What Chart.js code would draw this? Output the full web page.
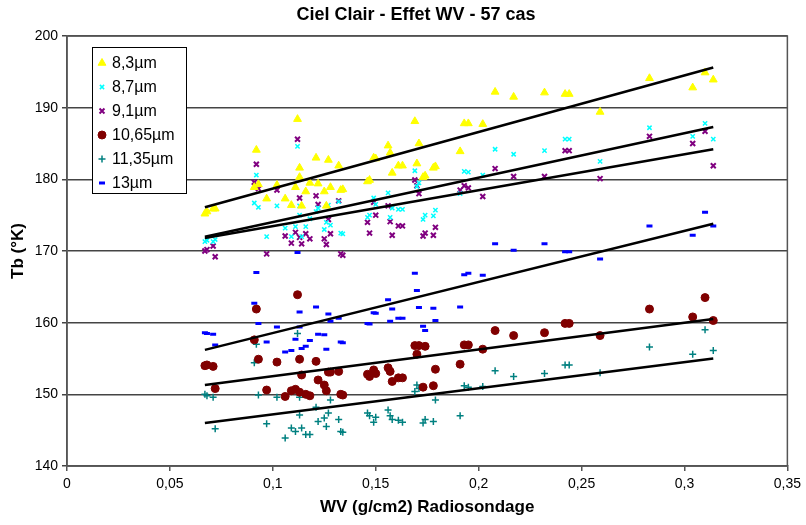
<!DOCTYPE html>
<html>
<head>
<meta charset="utf-8">
<title>Ciel Clair - Effet WV - 57 cas</title>
<script src="https://cdn.jsdelivr.net/npm/chart.js@4.4.1/dist/chart.umd.min.js"></script>
<style>
  html, body { margin: 0; padding: 0; background: #fff; }
  #wrap { position: relative; width: 806px; height: 525px; }
</style>
</head>
<body>
<div id="wrap"><canvas id="chart"></canvas></div>
<script>
// WV (g/cm2) of each radiosonde case - shared by every channel
const wv = [
  0.067, 0.068, 0.071, 0.072, 0.091, 0.092, 0.093, 0.097, 0.102, 0.106,
  0.109, 0.111, 0.112, 0.113, 0.113, 0.114, 0.116, 0.118, 0.121, 0.122,
  0.125, 0.126, 0.127, 0.128, 0.132, 0.133, 0.134, 0.146, 0.147, 0.149,
  0.150, 0.156, 0.157, 0.158, 0.161, 0.163, 0.169, 0.170, 0.171, 0.173,
  0.174, 0.178, 0.179, 0.191, 0.193, 0.195, 0.202, 0.208, 0.217, 0.232,
  0.242, 0.244, 0.259, 0.283, 0.304, 0.310, 0.314
];

// Tb (K) per channel, same order as wv
const tb83 = [
  175.2, 175.5, 175.9, 175.9, 178.9, 184.1, 179.3, 177.3, 179.2, 177.3,
  176.4, 178.9, 188.4, 181.6, 180.3, 176.3, 178.3, 179.5, 183.0, 179.4,
  178.3, 176.3, 182.7, 178.9, 181.9, 178.5, 178.6, 179.7, 179.9, 183.0,
  182.9, 184.7, 183.7, 180.9, 181.9, 181.9, 188.1, 182.2, 185.0, 180.3,
  180.5, 181.6, 181.8, 183.9, 187.8, 187.8, 187.7, 192.2, 191.5, 192.1,
  191.9, 191.9, 189.4, 194.1, 192.8, 194.9, 193.9
];
const tb87 = [
  171.3, 171.5, 171.3, 171.6, 176.7, 180.6, 176.1, 172.0, 176.3, 173.2,
  172.0, 173.4, 184.6, 176.3, 175.0, 172.0, 173.4, 174.5, 175.5, 176.0,
  173.0, 174.0, 176.4, 173.6, 176.9, 172.5, 172.4, 174.7, 175.0, 177.4,
  176.5, 178.1, 174.7, 176.0, 175.8, 175.8, 181.2, 179.0, 179.5, 174.4,
  175.0, 174.9, 175.7, 178.0, 181.1, 181.0, 180.6, 184.2, 183.5, 184.0,
  185.6, 185.6, 182.5, 187.2, 186.0, 187.8, 185.6
];
const tb91 = [
  170.0, 170.2, 170.7, 169.2, 179.6, 182.1, 178.7, 169.6, 178.5, 172.1,
  171.1, 172.6, 185.6, 177.4, 171.9, 171.0, 172.4, 171.7, 177.7, 176.5,
  171.7, 170.9, 174.4, 172.4, 177.0, 169.6, 169.4, 174.0, 172.5, 176.8,
  175.0, 176.3, 174.1, 172.2, 173.5, 173.5, 179.9, 179.1, 178.0, 172.1,
  172.5, 172.2, 173.3, 178.5, 179.1, 178.8, 177.6, 181.5, 180.4, 180.4,
  184.0, 184.0, 180.1, 186.0, 185.0, 186.7, 181.9
];
const tb1065 = [
  154.0, 154.1, 153.9, 150.8, 157.6, 161.9, 154.9, 150.6, 154.5, 149.7,
  150.5, 150.7, 163.9, 154.9, 150.3, 152.7, 150.0, 149.8, 154.6, 152.0,
  151.3, 150.5, 153.1, 153.1, 153.2, 150.0, 149.9, 152.8, 152.5, 153.4,
  152.9, 153.7, 153.2, 151.8, 152.3, 152.3, 156.8, 155.6, 156.8, 151.0,
  156.7, 151.2, 153.5, 154.2, 156.9, 156.9, 156.3, 158.9, 158.2, 158.6,
  159.9, 159.9, 158.2, 161.9, 160.8, 163.5, 160.3
];
const tb1135 = [
  150.0, 149.8, 149.6, 145.2, 154.4, 157.0, 149.9, 145.9, 149.6, 143.9,
  145.3, 144.8, 158.5, 149.6, 147.1, 145.3, 144.4, 144.4, 148.2, 146.2,
  146.7, 145.5, 147.4, 149.2, 146.5, 144.8, 144.7, 147.4, 147.0, 146.1,
  146.8, 147.8, 147.0, 146.5, 146.4, 146.1, 150.4, 151.3, 150.8, 146.0,
  146.5, 146.2, 149.2, 147.0, 151.2, 151.0, 151.1, 153.3, 152.5, 152.9,
  154.1, 154.1, 153.0, 156.6, 155.6, 159.0, 156.1
];
const tb13 = [
  158.6, 158.5, 158.4, 156.9, 162.7, 167.0, 159.9, 157.3, 159.4, 155.9,
  156.1, 157.7, 169.8, 161.5, 159.4, 156.4, 156.7, 157.5, 162.2, 158.4,
  158.3, 156.3, 161.2, 160.2, 160.6, 157.3, 157.2, 159.9, 159.8, 161.4,
  161.3, 163.2, 160.2, 161.9, 160.6, 160.6, 166.9, 164.5, 162.1, 159.5,
  158.9, 162.0, 160.3, 162.2, 166.7, 166.9, 166.6, 171.0, 170.1, 171.0,
  169.9, 169.9, 168.9, 173.5, 172.2, 175.4, 173.5
];

const channels = ['8,3µm', '8,7µm', '9,1µm', '10,65µm', '11,35µm', '13µm'];
// linear trend of each channel, value at smallest / largest WV
const fitLow = [176.1, 172.0, 171.8, 151.3, 146.0, 156.2];
const fitHigh = [195.6, 187.3, 184.2, 160.5, 155.0, 173.8];

const series = [tb83, tb87, tb91, tb1065, tb1135, tb13];

// marker look per channel (Excel-ish)
const markers = [
  { pointStyle: 'triangle', radius: 4.5, color: '#ffff00', borderWidth: 1 },
  { pointStyle: 'crossRot', radius: 3, color: '#00ffff', borderWidth: 1.5 },
  { pointStyle: 'crossRot', radius: 3.5, color: '#800080', borderWidth: 2 },
  { pointStyle: 'circle', radius: 4, color: '#800000', borderWidth: 1 },
  { pointStyle: 'cross', radius: 3.5, color: '#008080', borderWidth: 1.5 },
  { pointStyle: 'line', radius: 3, color: '#0000ff', borderWidth: 3 }
];

const wvMin = Math.min(...wv);
const wvMax = Math.max(...wv);

const datasets = [];
series.forEach((vals, i) => {
  const m = markers[i];
  datasets.push({
    type: 'scatter',
    label: channels[i],
    data: wv.map((x, k) => ({ x: x, y: vals[k] })),
    pointStyle: m.pointStyle,
    pointRadius: m.radius,
    pointBackgroundColor: m.color,
    pointBorderColor: m.color,
    pointBorderWidth: m.borderWidth,
    order: 1 + i
  });
});
series.forEach((vals, i) => {
  datasets.push({
    type: 'line',
    label: 'fit ' + channels[i],
    data: [{ x: wvMin, y: fitLow[i] }, { x: wvMax, y: fitHigh[i] }],
    borderColor: '#000',
    borderWidth: 2.5,
    pointRadius: 0,
    fill: false,
    order: 0
  });
});

const FONT = "'Liberation Sans', Arial, sans-serif";
const NARROW = "'Liberation Sans Narrow', 'Liberation Sans', Arial, sans-serif";
Chart.defaults.font.family = FONT;
Chart.defaults.color = '#000';

// title, plot frame and the boxed legend
const decor = {
  id: 'decor',
  afterDatasetsDraw(chart) {
    const ctx = chart.ctx;
    const a = chart.chartArea;
    ctx.save();
    ctx.strokeStyle = '#555';
    ctx.lineWidth = 1.5;
    ctx.strokeRect(a.left, a.top, a.right - a.left, a.bottom - a.top);

    ctx.fillStyle = '#000';
    ctx.font = 'bold 18px ' + FONT;
    ctx.textAlign = 'center';
    ctx.textBaseline = 'middle';
    ctx.fillText('Ciel Clair - Effet WV - 57 cas', 416, 15);

    // legend
    const lx = 92, ly = 47, lw = 94, lh = 146;
    ctx.fillStyle = '#fff';
    ctx.fillRect(lx, ly, lw, lh);
    ctx.strokeStyle = '#000';
    ctx.lineWidth = 1;
    ctx.strokeRect(lx + 0.5, ly + 0.5, lw, lh);
    ctx.font = '16px ' + FONT;
    ctx.textAlign = 'left';
    channels.forEach((name, i) => {
      const y = 63 + i * 24;
      const m = markers[i];
      ctx.fillStyle = m.color;
      ctx.strokeStyle = m.color;
      ctx.lineWidth = m.borderWidth;
      Chart.helpers.drawPoint(ctx, { pointStyle: m.pointStyle, radius: m.radius, borderWidth: m.borderWidth, rotation: 0 }, 102, y);
      ctx.fillStyle = '#000';
      ctx.fillText(name, 112, y + 1);
    });
    ctx.restore();
  }
};

new Chart(document.getElementById('chart'), {
  data: { datasets: datasets },
  options: {
    responsive: true,
    maintainAspectRatio: false,
    animation: false,
    layout: { padding: { top: 36, right: 10, left: 0, bottom: 0 } },
    plugins: {
      legend: { display: false },
      tooltip: { enabled: false }
    },
    scales: {
      x: {
        type: 'linear',
        min: 0,
        max: 0.35,
        afterFit: (s) => { s.height = 59; },
        ticks: {
          stepSize: 0.05,
          padding: 5,
          font: { size: 14, family: NARROW },
          callback: (v) => String(Math.round(v * 100) / 100).replace('.', ',')
        },
        grid: { drawOnChartArea: false, color: '#555', lineWidth: 1.5, tickLength: 5 },
        border: { color: '#555', width: 1.5 },
        title: {
          display: true,
          text: 'WV (g/cm2) Radiosondage',
          font: { size: 17, weight: 'bold' },
          padding: { top: 0, bottom: 7 }
        }
      },
      y: {
        min: 140,
        max: 200,
        afterFit: (s) => { s.width = 67; },
        ticks: {
          stepSize: 10,
          padding: 4,
          font: { size: 14, family: NARROW }
        },
        grid: { color: '#444', lineWidth: 1.5, tickLength: 5 },
        border: { color: '#555', width: 1.5 },
        title: {
          display: true,
          text: 'Tb (°K)',
          font: { size: 17, weight: 'bold' },
          padding: { top: 8, bottom: 0 }
        }
      }
    }
  },
  plugins: [decor]
});
</script>
</body>
</html>
